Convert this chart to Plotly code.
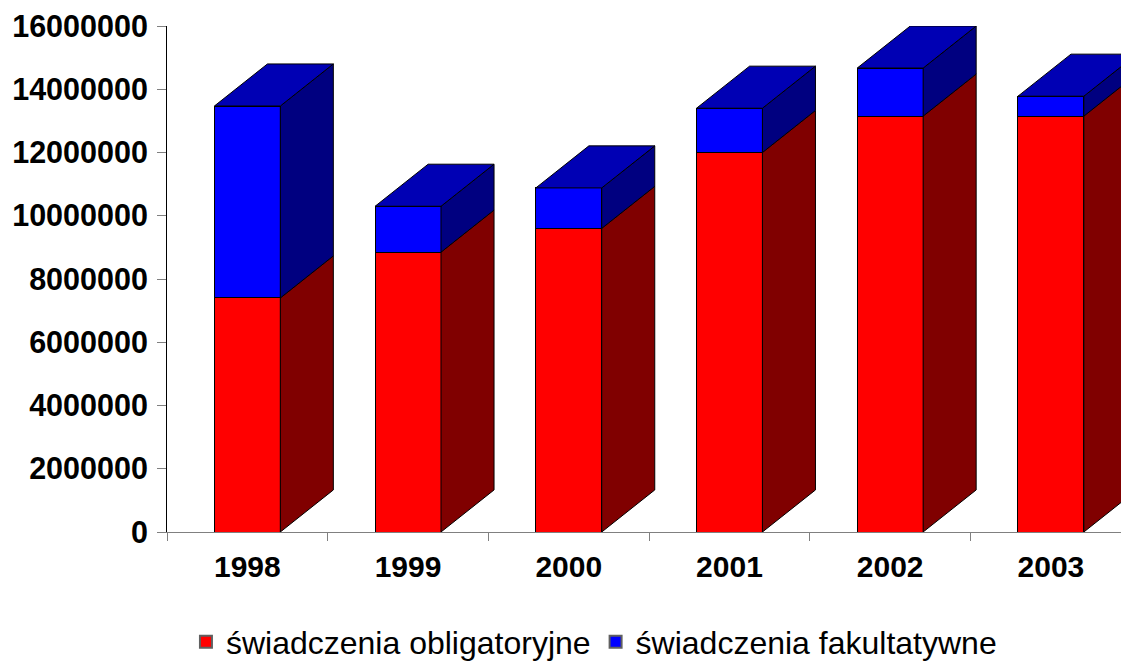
import plotly.graph_objects as go

years = ["1998", "1999", "2000", "2001", "2002", "2003"]
obligatoryjne = [7400000, 8850000, 9600000, 12000000, 13150000, 13150000]
fakultatywne = [6070000, 1450000, 1280000, 1400000, 1520000, 630000]
y_ticks = [0, 2000000, 4000000, 6000000, 8000000, 10000000, 12000000, 14000000, 16000000]

BAR_W = 0.41
DEPTH_X = 0.33
DEPTH_Y = 1330000
FONT = "Liberation Sans"
xs = list(range(len(years)))
totals = [a + b for a, b in zip(obligatoryjne, fakultatywne)]


def poly(px, py, color):
    return go.Scatter(x=px, y=py, mode="lines", fill="toself", fillcolor=color,
                      line=dict(color="black", width=1), showlegend=False, hoverinfo="skip")


fig = go.Figure()
fig.add_bar(x=xs, y=obligatoryjne, width=BAR_W, marker=dict(color="#FF0000", line=dict(color="black", width=1)),
            showlegend=False)
fig.add_bar(x=xs, y=fakultatywne, width=BAR_W, marker=dict(color="#0000FF", line=dict(color="black", width=1)),
            showlegend=False)

for i in xs:
    r = i + BAR_W / 2
    l = i - BAR_W / 2
    a, t = obligatoryjne[i], totals[i]
    fig.add_trace(poly([r, r + DEPTH_X, r + DEPTH_X, r, r], [0, DEPTH_Y, a + DEPTH_Y, a, 0], "#800000"))
    fig.add_trace(poly([r, r + DEPTH_X, r + DEPTH_X, r, r], [a, a + DEPTH_Y, t + DEPTH_Y, t, a], "#000080"))
    fig.add_trace(poly([l, l + DEPTH_X, r + DEPTH_X, r, l], [t, t + DEPTH_Y, t + DEPTH_Y, t, t], "#0000B4"))

for name, color in [("świadczenia obligatoryjne", "#FF0000"), ("świadczenia fakultatywne", "#0000FF")]:
    fig.add_scatter(x=[None], y=[None], mode="markers", name=name,
                    marker=dict(symbol="square", size=17, color=color, line=dict(color="#606060", width=1)))

fig.update_layout(
    width=1121, height=655, barmode="stack", paper_bgcolor="white", plot_bgcolor="white",
    margin=dict(l=159, r=0, t=18, b=131),
    font=dict(family=FONT, color="black"),
    legend=dict(orientation="h", x=0.5227, xanchor="center", xref="container", y=0.032, yanchor="middle",
                yref="container", traceorder="normal",
                font=dict(size=32, family=FONT), itemsizing="constant", bgcolor="rgba(0,0,0,0)"),
    xaxis=dict(range=[-0.5, 5.486], tickmode="array", tickvals=xs, ticktext=years, ticks="", showgrid=False,
               zeroline=False, showline=True, linecolor="#808080", linewidth=1,
               tickfont=dict(size=30, family=FONT, weight="bold"), ticklabelstandoff=8,
               minor=dict(tickmode="array", tickvals=[i - 0.5 for i in xs], ticks="outside", ticklen=8,
                          tickcolor="#808080", tickwidth=1, showgrid=False)),
    yaxis=dict(range=[0, 16000000], tickmode="array", tickvals=y_ticks, ticktext=[str(v) for v in y_ticks],
               ticks="outside", ticklen=9, tickcolor="#808080", tickwidth=1, showgrid=False, zeroline=False,
               showline=True, linecolor="black", linewidth=1,
               tickfont=dict(size=30.5, family=FONT, weight="bold"), ticklabelstandoff=3),
)
fig.write_html("out.html")
